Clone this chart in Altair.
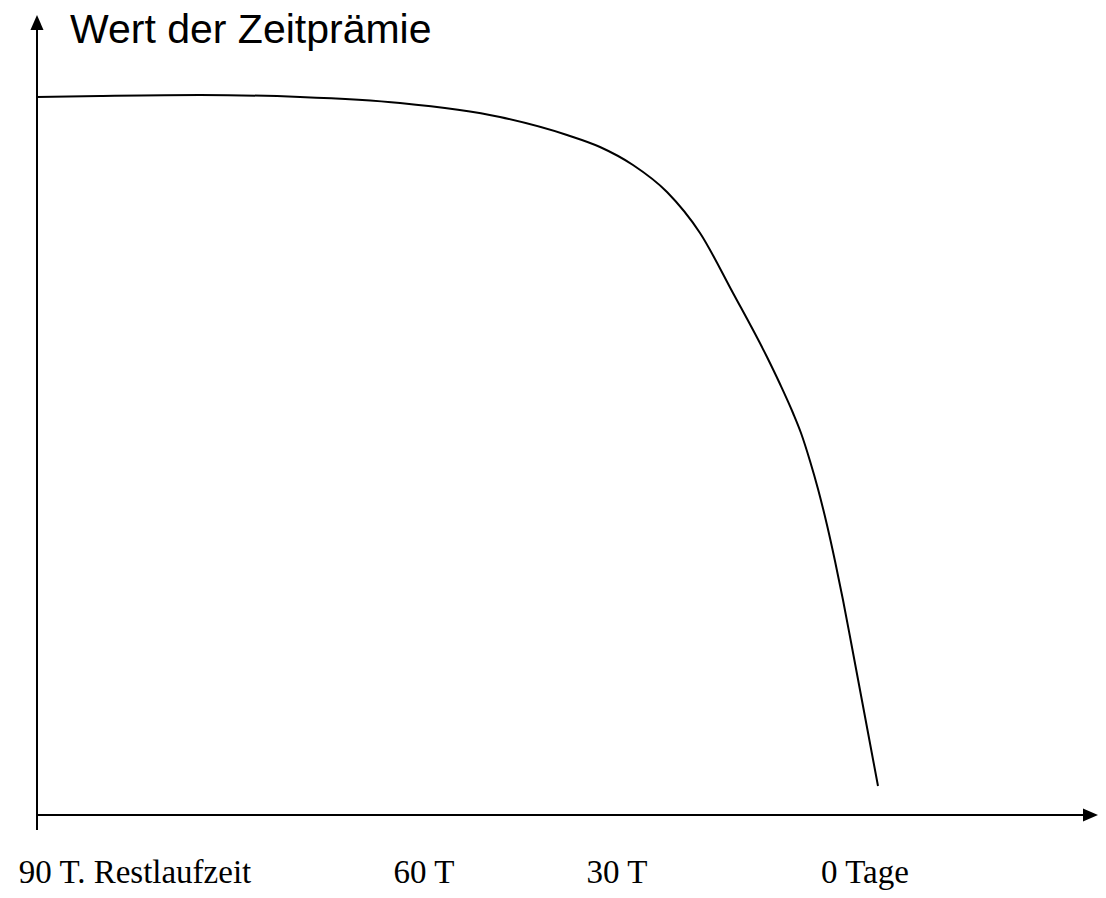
import altair as alt
import pandas as pd

# Curve of the time premium (position along the time axis, value)
curve_pos = [0, 63, 163, 263, 363, 463, 530, 563, 596, 630, 663, 696, 730, 743, 756, 764,
             773, 781, 790, 798, 806, 814, 823, 832, 841]
curve_val = [718, 719, 720, 718, 712, 698, 680, 668, 650, 623, 582, 522, 458, 431, 402, 382,
             354, 326, 290, 254, 215, 173, 125, 77, 29]

# Bottom labels
tick_labels = ["90 T. Restlaufzeit", "60 T", "30 T", "0 Tage"]
tick_pos = [98, 387, 580, 828]

title_text = "Wert der Zeitprämie"

X_MAX = 1061
Y_MAX = 800

xs = alt.Scale(domain=[0, X_MAX], nice=False, zero=False)
ys = alt.Scale(domain=[0, Y_MAX], nice=False, zero=False)

curve_df = pd.DataFrame({"pos": curve_pos, "val": curve_val})
labels_df = pd.DataFrame({"pos": tick_pos, "label": tick_labels})
axes_df = pd.DataFrame({
    "x": [0, 0], "x2": [0, 1046],
    "y": [-15, 0], "y2": [785, 0],
})
arrow_up_df = pd.DataFrame({"x": [0], "y": [792.5]})
arrow_right_df = pd.DataFrame({"x": [1053.5], "y": [0]})

curve = alt.Chart(curve_df).mark_line(
    color="black", strokeWidth=2, interpolate="monotone"
).encode(
    x=alt.X("pos:Q", scale=xs, axis=None),
    y=alt.Y("val:Q", scale=ys, axis=None),
)

axes = alt.Chart(axes_df).mark_rule(color="black", strokeWidth=2).encode(
    x=alt.X("x:Q", scale=xs, axis=None),
    x2="x2:Q",
    y=alt.Y("y:Q", scale=ys, axis=None),
    y2="y2:Q",
)

arrow_up = alt.Chart(arrow_up_df).mark_point(
    shape="M0,-1L0.87,1L-0.87,1Z", filled=True, color="black", opacity=1, size=225, strokeWidth=0
).encode(
    x=alt.X("x:Q", scale=xs, axis=None),
    y=alt.Y("y:Q", scale=ys, axis=None),
)

arrow_right = alt.Chart(arrow_right_df).mark_point(
    shape="M1,0L-1,-0.87L-1,0.87Z", filled=True, color="black", opacity=1, size=225, strokeWidth=0
).encode(
    x=alt.X("x:Q", scale=xs, axis=None),
    y=alt.Y("y:Q", scale=ys, axis=None),
)

labels = alt.Chart(labels_df).mark_text(
    font="Liberation Serif", fontSize=33, align="center", baseline="alphabetic", color="black"
).encode(
    x=alt.X("pos:Q", scale=xs, axis=None),
    y=alt.datum(-68),
    text="label:N",
)

title = alt.Chart(pd.DataFrame({"t": [title_text]})).mark_text(
    font="Liberation Sans", fontSize=41, align="left", baseline="alphabetic", color="black"
).encode(
    x=alt.datum(33),
    y=alt.datum(772),
    text="t:N",
)

chart = alt.layer(axes, arrow_up, arrow_right, curve, labels, title).properties(
    width=X_MAX,
    height=Y_MAX,
    autosize=alt.AutoSizeParams(type="none"),
    padding={"left": 29, "top": 7, "right": 0, "bottom": 75},
    background="white",
).configure_view(strokeWidth=0)

chart.save("out.html", embed_options={"renderer": "svg", "actions": False})
